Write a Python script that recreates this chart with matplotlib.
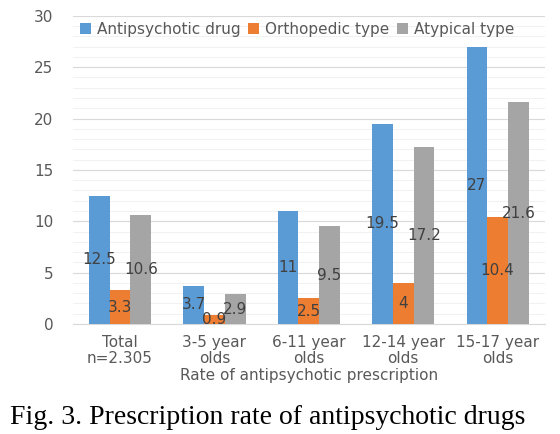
import numpy as np
import matplotlib.pyplot as plt

categories = ["Total\nn=2.305", "3-5 year\nolds", "6-11 year\nolds",
              "12-14 year\nolds", "15-17 year\nolds"]
antipsychotic = [12.5, 3.7, 11, 19.5, 27]
orthopedic = [3.3, 0.9, 2.5, 4, 10.4]
atypical = [10.6, 2.9, 9.5, 17.2, 21.6]

series = [
    ("Antipsychotic drug", antipsychotic, "#5b9bd5"),
    ("Orthopedic type", orthopedic, "#ed7d31"),
    ("Atypical type", atypical, "#a5a5a5"),
]

plt.rcParams['font.family'] = ['DejaVu Sans']
gray = "#595959"
fs = 11

fig = plt.figure(figsize=(5.6, 4.34), dpi=100)
ax = fig.add_axes([0.130, 0.2535, 0.843, 0.71])

x = np.arange(len(categories))
w = 0.22
for i, (name, vals, col) in enumerate(series):
    bars = ax.bar(x + (i - 1) * w, vals, w, color=col, label=name, zorder=3)
    ax.bar_label(bars, labels=[f"{v:g}" for v in vals], label_type="center",
                 fontsize=fs, color="#404040", zorder=4)

ax.set_xlim(-0.5, len(categories) - 0.5)
ax.set_ylim(0, 30)
ax.set_yticks(range(0, 31, 5))
ax.set_yticks(range(0, 31, 1), minor=True)
ax.grid(axis="y", which="major", color="#d9d9d9", linewidth=0.8, zorder=0)
ax.grid(axis="y", which="minor", color="#efefef", linewidth=0.6, zorder=0)
ax.set_xticks(x)
ax.set_xticklabels(categories, color=gray, fontsize=fs, linespacing=1.1)
ax.tick_params(axis="y", colors=gray, labelsize=fs, length=0, which="both", pad=14)
ax.tick_params(axis="x", length=0, pad=8)
for s in ["top", "right", "left"]:
    ax.spines[s].set_visible(False)
ax.spines["bottom"].set_color("#d9d9d9")
ax.set_xlabel("Rate of antipsychotic prescription", color=gray, fontsize=fs, labelpad=1)

ax.legend(loc="upper center", bbox_to_anchor=(0.475, 1.005), ncol=3, frameon=False,
          fontsize=fs, handlelength=0.7, handleheight=0.7, handletextpad=0.4,
          columnspacing=0.5, labelcolor=gray, borderaxespad=0.1)

fig.text(0.018, 0.022, "Fig. 3. Prescription rate of antipsychotic drugs",
         family="Liberation Serif", fontsize=20, color="black")

fig.savefig("out.png", dpi=100)
